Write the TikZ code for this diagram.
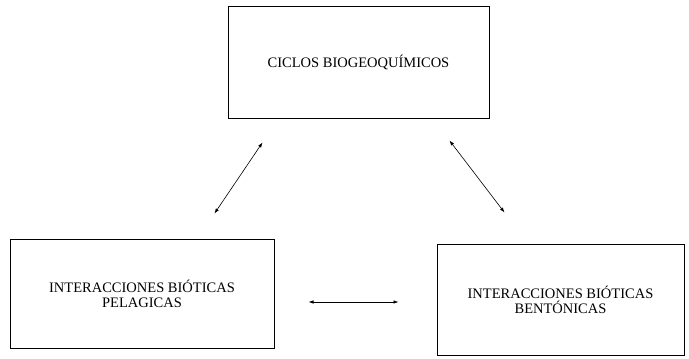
\documentclass[tikz,border=0pt]{standalone}
\usepackage{fontspec}
\setmainfont{Liberation Serif}
\usetikzlibrary{arrows.meta}

\begin{document}
\begin{tikzpicture}[x=1pt,y=-1pt]

\def\tam{14.5}

\tikzset{caja/.style = {draw, line width=1pt, inner sep=0pt, align=center, font=\fontsize{\tam}{15}\selectfont}}
\tikzset{flecha/.style = {{Latex[length=5pt,width=3.5pt]}-{Latex[length=5pt,width=3.5pt]}, line width=0.6pt}}

\useasboundingbox (0,0) rectangle (689,359);

\node[caja, minimum width=261pt, minimum height=112pt] (ciclos) at (358.5,62) {CICLOS BIOGEOQUÍMICOS};
\node[caja, minimum width=264pt, minimum height=109pt] (pelagicas) at (142,293.5) {INTERACCIONES BIÓTICAS\\PELAGICAS};
\node[caja, minimum width=247pt, minimum height=111pt] (bentonicas) at (560.5,299.5) {INTERACCIONES BIÓTICAS\\BENTÓNICAS};

% ciclos - pelagicas
\path (ciclos.south west) ++(35,24) coordinate (C1);
\path (pelagicas.north west) ++(205,-25) coordinate (P1);
\draw[flecha] (C1) -- (P1);

% ciclos - bentonicas
\path (ciclos.south east) ++(-40,22) coordinate (C2);
\path (bentonicas.north west) ++(68,-31) coordinate (B1);
\draw[flecha] (C2) -- (B1);

% pelagicas - bentonicas
\path (pelagicas.east) ++(34,8.5) coordinate (P2);
\path (bentonicas.west) ++(-38,2.5) coordinate (B2);
\draw[flecha] (P2) -- (B2);

\end{tikzpicture}
\end{document}
